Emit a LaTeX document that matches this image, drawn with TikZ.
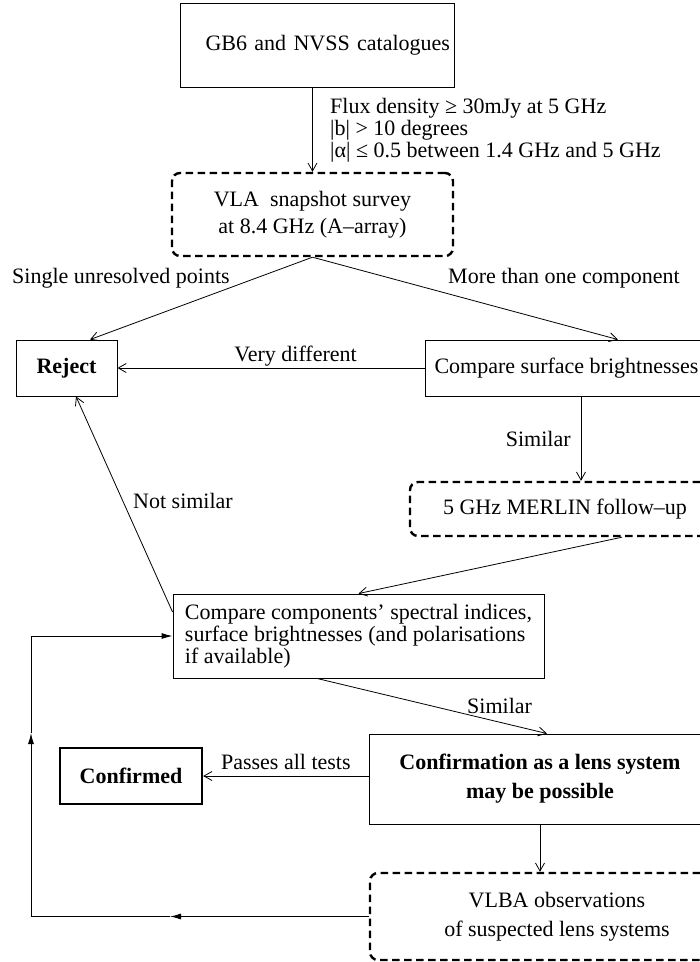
\documentclass[tikz,border=0pt]{standalone}
\usepackage{fontspec}
\setmainfont{Liberation Serif}
\usetikzlibrary{arrows.meta}

\tikzset{
  plainbox/.style={draw, line width=0.9pt, rectangle, align=center},
  obsbox/.style={draw, line width=2.4pt, dash pattern=on 7.5pt off 4.5pt, rounded corners=8pt, align=center},
  finalbox/.style={draw, line width=2.4pt, rectangle, font=\fontsize{22}{22}\selectfont\bfseries},
  openarrow/.style={line width=0.8pt, -{Straight Barb[length=8pt,width=9pt]}},
  looparrow/.style={line width=0.9pt, -{Latex[length=11pt,width=6pt]}},
  lbl/.style={inner sep=0pt}
}

\begin{document}
\begin{tikzpicture}[x=1pt, y=-1pt, font=\fontsize{22}{22}\selectfont]
\useasboundingbox (0,0) rectangle (700,962);
\clip (0,0) rectangle (700,962);

% Selection stages
\node[plainbox, minimum width=274, minimum height=84, text width=266, align=right] (gb6) at (317,45) {GB6 and NVSS catalogues};
\node[obsbox, minimum width=281, minimum height=83, font=\fontsize{22}{27}\selectfont] (vla) at (312.5,214.5) {VLA\ \ snapshot survey\\ at 8.4 GHz (A--array)};
\node[plainbox, minimum width=101, minimum height=56, font=\fontsize{22}{22}\selectfont\bfseries] (reject) at (66.5,368) {Reject};
\node[plainbox, minimum width=283, minimum height=56] (surf) at (566.5,368) {Compare surface brightnesses};
\node[obsbox, minimum width=310, minimum height=54] (merlin) at (565,509) {5 GHz MERLIN follow--up};
\node[plainbox, minimum width=371, minimum height=84, align=left] (comp) at (358.5,636) {Compare components' spectral indices,\\ surface brightnesses (and polarisations\\ if available)};
\node[finalbox, minimum width=142, minimum height=56] (confirmed) at (131,776) {Confirmed};
\node[plainbox, minimum width=342, minimum height=90, font=\fontsize{22}{29}\selectfont\bfseries] (lens) at (540,779) {Confirmation as a lens system\\ may be possible};
\node[obsbox, minimum width=374, minimum height=87, font=\fontsize{22}{29}\selectfont] (vlba) at (557,916.5) {VLBA observations\\ of suspected lens systems};

% Selection criteria
\draw[openarrow] (gb6.south -| vla.north) -- (vla.north);
\node[lbl, anchor=north west, align=left] (cuts) at (330,98) {Flux density ≥ 30mJy at 5 GHz\\ |b| > 10 degrees\\ |α| ≤ 0.5 between 1.4 GHz and 5 GHz};

% VLA outcomes
\draw[openarrow] (vla.south) -- ([xshift=23.5pt]reject.north);
\node[lbl, anchor=base west] (single) at (12,283) {Single unresolved points};
\draw[openarrow] (vla.south) -- ([xshift=51.5pt]surf.north);
\node[lbl, anchor=base west] (multi) at (448,283) {More than one component};
\draw[openarrow] (surf.west) -- node[pos=0.42, above, inner sep=1.5pt] {Very different} (reject.east);
\draw[openarrow] ([xshift=14.5pt]surf.south) -- node[left, inner sep=10pt] {Similar} ([xshift=14.5pt]surf.south |- merlin.north);

% MERLIN and comparison
\draw[openarrow] ([xshift=57pt]merlin.south) -- (comp.north);
\draw[openarrow] ([yshift=24pt]comp.west) -- ([xshift=9.5pt]reject.south);
\node[lbl, anchor=base west] (notsim) at (133,508) {Not similar};
\draw[openarrow] ([xshift=-41.5pt]comp.south) -- ([xshift=7pt]lens.north);
\node[lbl, anchor=base west] (sim) at (467,713) {Similar};
\draw[openarrow] (lens.west |- confirmed.east) -- node[above, inner sep=6pt] {Passes all tests} (confirmed.east);
\draw[openarrow] (lens.south) -- (lens.south |- vlba.north);

% Feedback loop
\coordinate (loopb) at (31,916.5);
\coordinate (loopt) at (31,636);
\coordinate (midb) at (170,916.5);
\coordinate (midl) at (31,733);
\draw[looparrow] (vlba.west) -- (midb);
\draw[looparrow] (midb) -- (loopb) -- (midl);
\draw[looparrow] (midl) -- (loopt) -- (comp.west);

\end{tikzpicture}
\end{document}
